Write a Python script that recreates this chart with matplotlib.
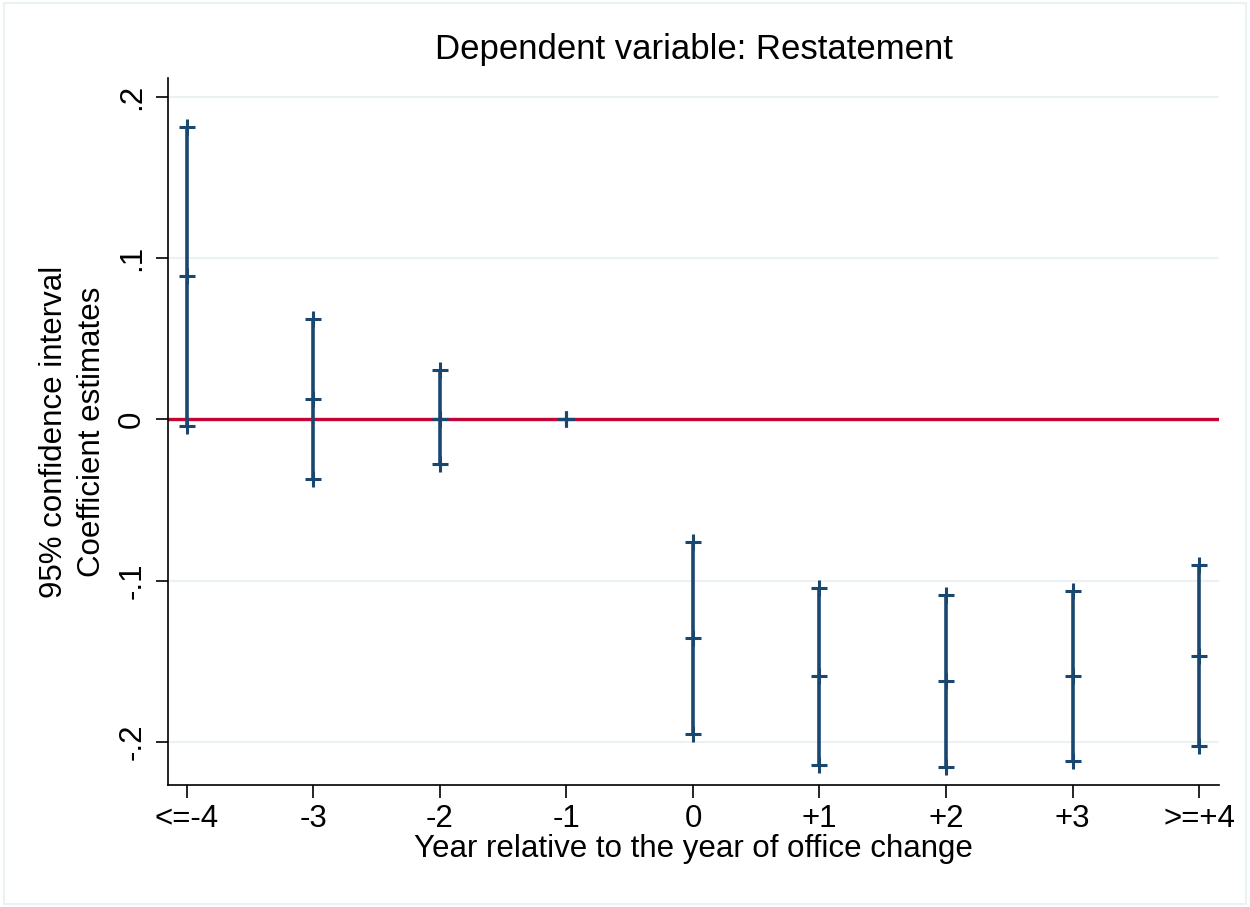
import numpy as np
import matplotlib
matplotlib.use("Agg")
import matplotlib.pyplot as plt
from matplotlib.patches import Rectangle

plt.rcParams["font.family"] = ["Liberation Sans", "DejaVu Sans"]

# event-time categories and estimates
labels = ["<=-4", "-3", "-2", "-1", "0", "+1", "+2", "+3", ">=+4"]
coef = [0.0888, 0.0130, 0.0006, 0.0, -0.1354, -0.1590, -0.1620, -0.1590, -0.1466]
ci_low = [-0.0043, -0.0366, -0.0273, 0.0, -0.1950, -0.2143, -0.2155, -0.2118, -0.2025]
ci_high = [0.1814, 0.0621, 0.0304, 0.0, -0.0758, -0.1043, -0.1087, -0.1062, -0.0900]
yticks = [-0.2, -0.1, 0.0, 0.1, 0.2]
ytick_labels = ["-.2", "-.1", "0", ".1", ".2"]

navy = "#1a476f"
grid_col = "#eaf2f3"

fig = plt.figure(figsize=(12.5, 9.07), dpi=100)
fig.patches.append(Rectangle((0.003, 0.003), 0.994, 0.994, transform=fig.transFigure,
                             fill=False, edgecolor=grid_col, linewidth=1.5))
ax = fig.add_axes([0.1344, 0.1345, 0.8408, 0.7795])

x = np.arange(len(labels))

for yv in yticks:
    ax.axhline(yv, color=grid_col, linewidth=1.5, zorder=0)
ax.axhline(0, color="#c10534", linewidth=2.4, zorder=1)

ax.vlines(x, ci_low, ci_high, color=navy, linewidth=2.6, zorder=2)
for vals in (ci_low, coef, ci_high):
    ax.plot(x, vals, linestyle="none", marker="+", markersize=11,
            markeredgewidth=2.2, color=navy, zorder=3)

ax.set_xlim(-0.150, 8.158)
ax.set_ylim(-0.2267, 0.2118)
ax.set_xticks(x)
ax.set_xticklabels(labels, fontsize=22.5)
ax.set_yticks(yticks)
ax.set_yticklabels(ytick_labels, fontsize=22.5, rotation=90, va="center")
ax.tick_params(axis="both", length=9, width=1.2, color="black")
ax.tick_params(axis="x", pad=5)
ax.tick_params(axis="y", pad=6)

for s in ("top", "right"):
    ax.spines[s].set_visible(False)
for s in ("left", "bottom"):
    ax.spines[s].set_linewidth(1.2)

ax.set_title("Dependent variable: Restatement", fontsize=25, pad=14)
ax.set_xlabel("Year relative to the year of office change", fontsize=22.5, labelpad=0)
ax.set_ylabel("95% confidence interval\nCoefficient estimates", fontsize=22.5, labelpad=7,
              linespacing=1.35)

fig.savefig("out.png", dpi=100)
